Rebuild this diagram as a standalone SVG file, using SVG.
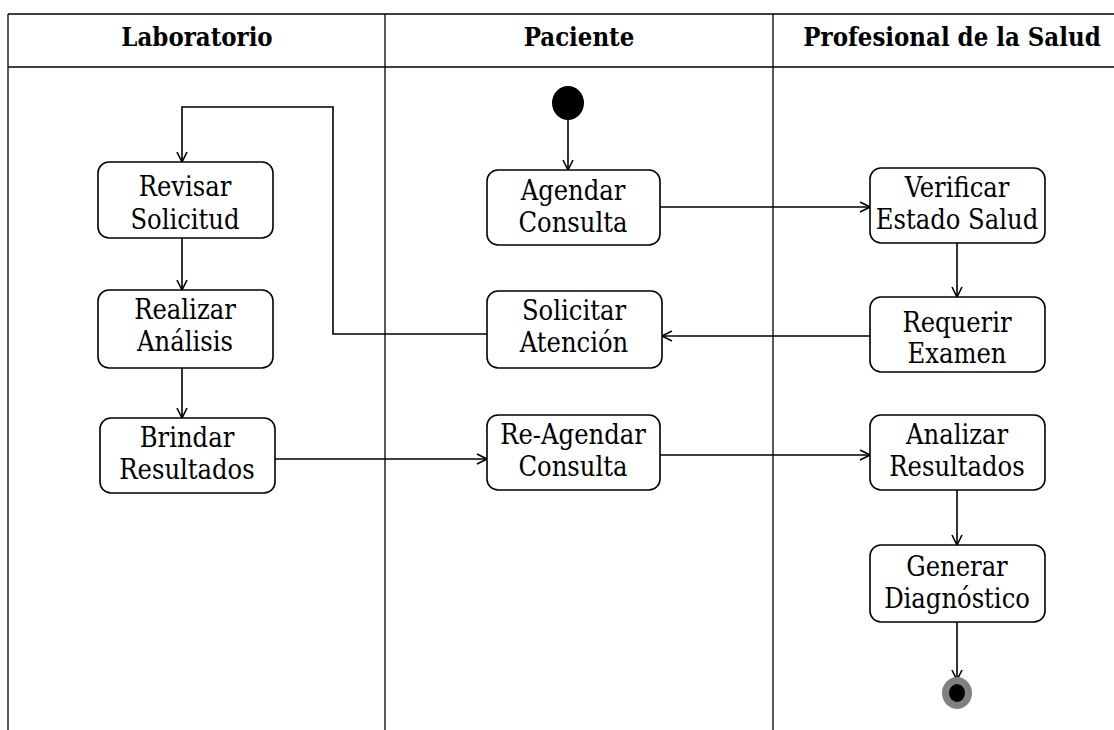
<svg xmlns="http://www.w3.org/2000/svg" width="1114" height="730" viewBox="0 0 1114 730">
  <defs>
    <marker id="arrow" viewBox="0 0 12 12" refX="11" refY="6" markerWidth="12" markerHeight="12" markerUnits="userSpaceOnUse" orient="auto">
      <path d="M1,1 L11,6 L1,11" fill="none" stroke="#000" stroke-width="1.6"/>
    </marker>
  </defs>
  <style>
    .grid { stroke: #000; stroke-width: 1.3; fill: none; }
    .head { font-family: "DejaVu Serif Condensed", "DejaVu Serif", serif; font-stretch: condensed; font-weight: bold; font-size: 25.5px; text-anchor: middle; fill: #000; }
    .box { fill: #fff; stroke: #000; stroke-width: 1.6; }
    .lbl { font-family: "DejaVu Serif Condensed", "DejaVu Serif", serif; font-stretch: condensed; font-size: 27px; text-anchor: middle; fill: #000; }
    .edge { fill: none; stroke: #000; stroke-width: 1.6; marker-end: url(#arrow); }
  </style>

  <rect width="1114" height="730" fill="#fff"/>

  <!-- swimlane frame -->
  <g id="lanes">
    <line class="grid" x1="8" y1="14" x2="1114" y2="14"/>
    <line class="grid" x1="8" y1="67" x2="1114" y2="67"/>
    <line class="grid" x1="8" y1="14" x2="8" y2="730"/>
    <line class="grid" x1="385" y1="14" x2="385" y2="730"/>
    <line class="grid" x1="773" y1="14" x2="773" y2="730"/>
    <text class="head" x="197" y="46">Laboratorio</text>
    <text class="head" x="579" y="46">Paciente</text>
    <text class="head" x="952" y="46">Profesional de la Salud</text>
  </g>

  <!-- connectors -->
  <g id="connectors">
    <path class="edge" d="M568,120 L568,170"/>
    <path class="edge" d="M660,207 L870,207"/>
    <path class="edge" d="M957,243 L957,297"/>
    <path class="edge" d="M870,336 L662,336"/>
    <path class="edge" d="M487,334 L333,334 L333,107 L182,107 L182,162"/>
    <path class="edge" d="M182,238 L182,290"/>
    <path class="edge" d="M182,368 L182,418"/>
    <path class="edge" d="M275,459 L487,459"/>
    <path class="edge" d="M660,455 L870,455"/>
    <path class="edge" d="M957,490 L957,545"/>
    <path class="edge" d="M957,622 L957,680"/>
  </g>

  <!-- initial node -->
  <g id="start">
    <ellipse cx="568" cy="103" rx="16" ry="17" fill="#000"/>
  </g>

  <g id="agendar">
    <rect class="box" x="487" y="170" width="173" height="75" rx="11"/>
    <text class="lbl" x="573" y="200">Agendar</text>
    <text class="lbl" x="573" y="232">Consulta</text>
  </g>

  <g id="verificar">
    <rect class="box" x="870" y="168" width="175" height="75" rx="11"/>
    <text class="lbl" x="957" y="197">Verificar</text>
    <text class="lbl" x="957" y="229">Estado Salud</text>
  </g>

  <g id="requerir">
    <rect class="box" x="870" y="297" width="175" height="75" rx="11"/>
    <text class="lbl" x="957" y="332">Requerir</text>
    <text class="lbl" x="957" y="363">Examen</text>
  </g>

  <g id="solicitar">
    <rect class="box" x="487" y="291" width="175" height="77" rx="11"/>
    <text class="lbl" x="574" y="320">Solicitar</text>
    <text class="lbl" x="574" y="352">Atención</text>
  </g>

  <g id="revisar">
    <rect class="box" x="98" y="162" width="175" height="76" rx="11"/>
    <text class="lbl" x="185" y="196">Revisar</text>
    <text class="lbl" x="185" y="229">Solicitud</text>
  </g>

  <g id="realizar">
    <rect class="box" x="98" y="290" width="175" height="78" rx="11"/>
    <text class="lbl" x="185" y="319">Realizar</text>
    <text class="lbl" x="185" y="351">Análisis</text>
  </g>

  <g id="brindar">
    <rect class="box" x="100" y="418" width="175" height="75" rx="11"/>
    <text class="lbl" x="187" y="447">Brindar</text>
    <text class="lbl" x="187" y="479">Resultados</text>
  </g>

  <g id="reagendar">
    <rect class="box" x="487" y="415" width="173" height="75" rx="11"/>
    <text class="lbl" x="573" y="444">Re-Agendar</text>
    <text class="lbl" x="573" y="476">Consulta</text>
  </g>

  <g id="analizar">
    <rect class="box" x="870" y="415" width="175" height="75" rx="11"/>
    <text class="lbl" x="957" y="444">Analizar</text>
    <text class="lbl" x="957" y="476">Resultados</text>
  </g>

  <g id="generar">
    <rect class="box" x="870" y="545" width="175" height="77" rx="11"/>
    <text class="lbl" x="957" y="576">Generar</text>
    <text class="lbl" x="957" y="608">Diagnóstico</text>
  </g>

  <!-- final node -->
  <g id="end">
    <ellipse cx="957" cy="693" rx="15" ry="16" fill="#808080"/>
    <ellipse cx="957" cy="693" rx="8" ry="9" fill="#000"/>
  </g>
</svg>
